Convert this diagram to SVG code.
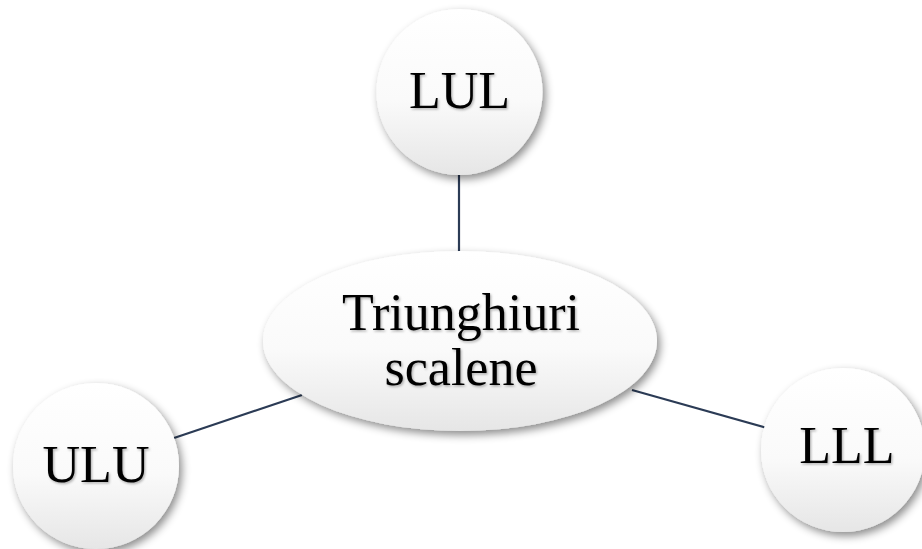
<svg xmlns="http://www.w3.org/2000/svg" width="922" height="549" viewBox="0 0 922 549">
  <defs>
    <linearGradient id="fillGrad" x1="0" y1="0" x2="0" y2="1">
      <stop offset="0" stop-color="#ffffff"/>
      <stop offset="0.55" stop-color="#fafafa"/>
      <stop offset="1" stop-color="#e6e6e6"/>
    </linearGradient>
    <filter id="shadow" x="-20%" y="-20%" width="150%" height="150%">
      <feDropShadow dx="3" dy="4" stdDeviation="4" flood-color="#000000" flood-opacity="0.45"/>
    </filter>
    <filter id="tshadow" x="-10%" y="-10%" width="130%" height="130%">
      <feDropShadow dx="1.2" dy="1.5" stdDeviation="0.8" flood-color="#000000" flood-opacity="0.3"/>
    </filter>
  </defs>
  <style>
    .node { fill: url(#fillGrad); filter: url(#shadow); }
    .label { font-family: "Liberation Serif", "Times New Roman", serif; font-size: 52px; fill: #000000; text-anchor: middle; filter: url(#tshadow); }
    .conn { stroke: #2b3b55; stroke-width: 2.2; fill: none; }
  </style>
  <rect width="922" height="549" fill="#ffffff"/>
  <g id="connectors">
    <line class="conn" x1="459" y1="174" x2="459" y2="252"/>
    <line class="conn" x1="174" y1="438" x2="302" y2="395"/>
    <line class="conn" x1="632" y1="390" x2="767" y2="428"/>
  </g>
  <g id="center">
    <ellipse class="node" cx="460" cy="341" rx="197" ry="90"/>
    <text class="label" x="461" y="330">Triunghiuri</text>
    <text class="label" x="461" y="385">scalene</text>
  </g>
  <g id="lul">
    <circle class="node" cx="459.5" cy="92" r="83"/>
    <text class="label" x="459.5" y="108">LUL</text>
  </g>
  <g id="ulu">
    <circle class="node" cx="96" cy="466" r="83"/>
    <text class="label" x="96" y="482">ULU</text>
  </g>
  <g id="lll">
    <circle class="node" cx="843" cy="450" r="82"/>
    <text class="label" x="847" y="463">LLL</text>
  </g>
</svg>
